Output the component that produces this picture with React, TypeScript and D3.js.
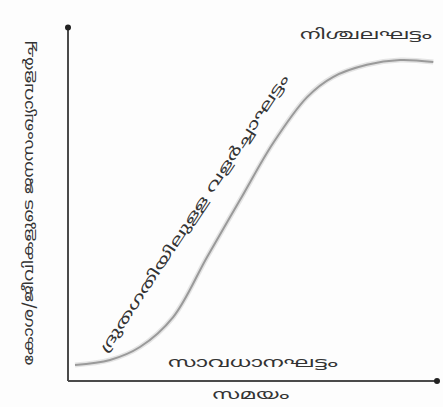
import React from "react";
import * as d3 from "d3";

const timeValues = [0.19, 1.14, 1.95, 2.85, 3.77, 4.66, 5.56, 6.48, 7.18, 8.1, 9.0, 9.9];
const growthValues = [4.7, 6.2, 10, 18.8, 36.5, 53.2, 70, 83.5, 89.4, 93, 94.4, 93.8];

const xAxisTitle = "സമയം";
const yAxisTitle = "കോശ/ജീവികളുടെ ജനസംഖ്യാവളർച്ച";
const lagLabel = "സാവധാനഘട്ടം";
const logLabel = "ദ്രുതഗതിയിലുള്ള   വളർച്ചാഘട്ടം";
const stationaryLabel = "നിശ്ചലഘട്ടം";

const W = 443;
const H = 407;
const FONT = "'Noto Sans Malayalam', 'Noto Sans', 'DejaVu Sans', sans-serif";

export default function App() {
  const x = d3.scaleLinear().domain([0, 10]).range([68, 437]);
  const y = d3.scaleLinear().domain([0, 100]).range([381, 41]);
  const pts = timeValues.map((t, i) => [t, growthValues[i]] as [number, number]);
  const line = d3
    .line<[number, number]>()
    .x((d) => x(d[0]))
    .y((d) => y(d[1]))
    .curve(d3.curveCatmullRom.alpha(0.5));
  const path = line(pts) || "";
  const x0 = x(0);
  const y0 = y(0);
  const xEnd = x(10);
  const yTop = y(104);

  const txt = {
    fontFamily: FONT,
    fontSize: 14,
    fill: "#333",
    textAnchor: "middle" as const,
    lengthAdjust: "spacingAndGlyphs" as const,
  };

  return (
    <svg
      width={W}
      height={H}
      style={{ position: "absolute", left: 0, top: 0, background: "#fff" }}
    >
      <rect x={0} y={0} width={W} height={H} fill="#fdfdfd" />
      <path d={path} fill="none" stroke="#e4e4e4" strokeWidth={5} />
      <path d={path} fill="none" stroke="#9a9a9a" strokeWidth={2} />
      <line x1={x0} y1={y0} x2={xEnd} y2={y0} stroke="#4a4a4a" strokeWidth={2} />
      <line x1={x0} y1={y0} x2={x0} y2={yTop} stroke="#4a4a4a" strokeWidth={2} />
      <circle cx={x0} cy={yTop} r={3} fill="#222" />
      <circle cx={xEnd} cy={y0} r={3} fill="#222" />
      <text x={366} y={39} textLength={132} {...txt}>
        {stationaryLabel}
      </text>
      <text x={253} y={367} textLength={170} {...txt}>
        {lagLabel}
      </text>
      <text x={251} y={399} textLength={77} {...txt}>
        {xAxisTitle}
      </text>
      <text transform="translate(33,203) rotate(-90)" textLength={325} {...txt}>
        {yAxisTitle}
      </text>
      <text transform="translate(198,216) rotate(-56.5)" textLength={330} {...txt}>
        {logLabel}
      </text>
    </svg>
  );
}
